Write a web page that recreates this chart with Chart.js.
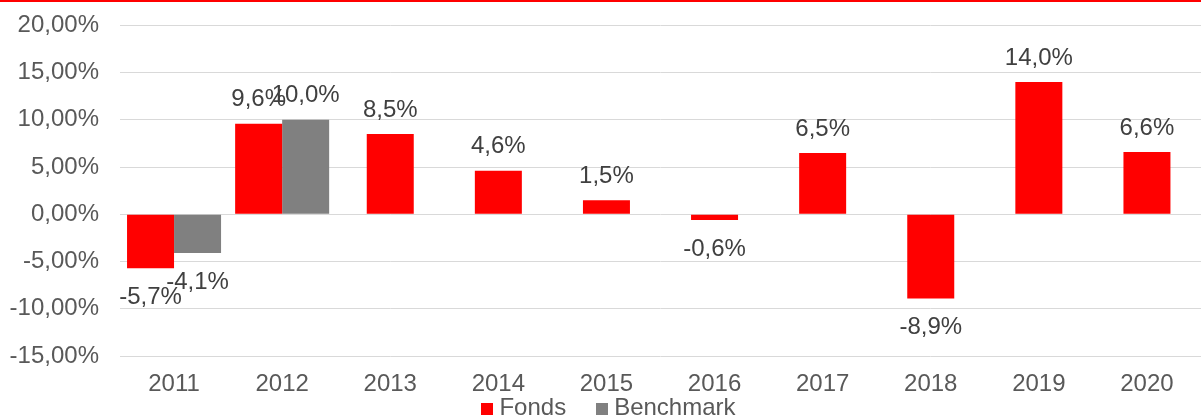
<!DOCTYPE html>
<html>
<head>
<meta charset="utf-8">
<script src="https://cdn.jsdelivr.net/npm/chart.js@4.4.1/dist/chart.umd.min.js"></script>
<style>
    html, body { margin: 0; padding: 0; background: #ffffff; overflow: hidden; }
    #topLine { position: absolute; left: 0; top: 0; width: 1201px; height: 2px; background: #ff0000; }
    #perfChart { position: absolute; left: 0; top: -10px; width: 1201px; height: 408px; }
    #legende { position: absolute; left: 8px; top: 395px; width: 1201px; height: 24px;
               text-align: center; font: 24px "Liberation Sans", Arial, sans-serif; color: #595959; line-height: 24px; }
    #legende span.item { margin: 0 15px; white-space: nowrap; }
    #legende span.box { display: inline-block; width: 12px; height: 12px; margin-right: 6px; }
</style>
</head>
<body>
<canvas id="perfChart" width="1201" height="408"></canvas>
<div id="legende"></div>
<div id="topLine"></div>
<script>
// Données du graphe
const annees = ['2011', '2012', '2013', '2014', '2015', '2016', '2017', '2018', '2019', '2020'];
const fonds = [-5.7, 9.6, 8.5, 4.6, 1.5, -0.6, 6.5, -8.9, 14.0, 6.6];
const benchmark = [-4.1, 10.0, null, null, null, null, null, null, null, null];
const yTicks = [-15, -10, -5, 0, 5, 10, 15, 20];

const police = '"Liberation Sans", Arial, sans-serif';

function virgule(v, d) {
    return v.toFixed(d).replace('.', ',');
}

// Etiquettes au-dessus / en dessous des barres
const labelsPlugin = {
    id: 'valueLabels',
    afterDatasetsDraw(chart) {
        const ctx = chart.ctx;
        ctx.save();
        ctx.font = '24px ' + police;
        ctx.fillStyle = '#404040';
        ctx.textAlign = 'center';
        ctx.textBaseline = 'middle';
        chart.data.datasets.forEach((ds, i) => {
            const meta = chart.getDatasetMeta(i);
            meta.data.forEach((bar, j) => {
                const v = ds.data[j];
                if (v === null) return;
                const y = v >= 0 ? bar.y - 24 : bar.y + 29;
                ctx.fillText(virgule(v, 1) + '%', bar.x, y);
            });
        });
        ctx.restore();
    }
};

const ctx = document.getElementById('perfChart');

const myChart = new Chart(ctx, {
    type: 'bar',
    data: {
        labels: annees,
        datasets: [{
            label: 'Fonds',
            data: fonds,
            backgroundColor: '#ff0000',
            skipNull: true
        }, {
            label: 'Benchmark',
            data: benchmark,
            backgroundColor: '#808080',
            skipNull: true
        }]
    },
    options: {
        responsive: false,
        maintainAspectRatio: false,
        animation: false,
        devicePixelRatio: 1,
        categoryPercentage: 0.87,
        barPercentage: 1,
        maxBarThickness: 47,
        layout: { padding: { top: 2, right: 0, left: 0, bottom: 0 } },
        scales: {
            x: {
                grid: { display: false },
                border: { display: false },
                afterFit: s => { s.height = 42; },
                ticks: {
                    color: '#595959',
                    font: { size: 24, family: police },
                    padding: 6
                }
            },
            y: {
                min: -15,
                max: 20,
                afterBuildTicks: axis => { axis.ticks = yTicks.map(v => ({ value: v })); },
                afterFit: s => { s.width = 120; },
                grid: { color: '#d9d9d9', lineWidth: 1, drawTicks: false },
                border: { display: false },
                ticks: {
                    color: '#595959',
                    font: { size: 24, family: police },
                    padding: 21,
                    callback: v => virgule(v, 2) + '%'
                }
            }
        },
        plugins: {
            legend: { display: false },
            tooltip: { enabled: false }
        }
    },
    plugins: [labelsPlugin]
});

// Légende en bas
const legende = document.getElementById('legende');
myChart.data.datasets.forEach(ds => {
    const item = document.createElement('span');
    item.className = 'item';
    item.innerHTML = `<span class="box" style="background:${ds.backgroundColor}"></span>${ds.label}`;
    legende.appendChild(item);
});
</script>
</body>
</html>
